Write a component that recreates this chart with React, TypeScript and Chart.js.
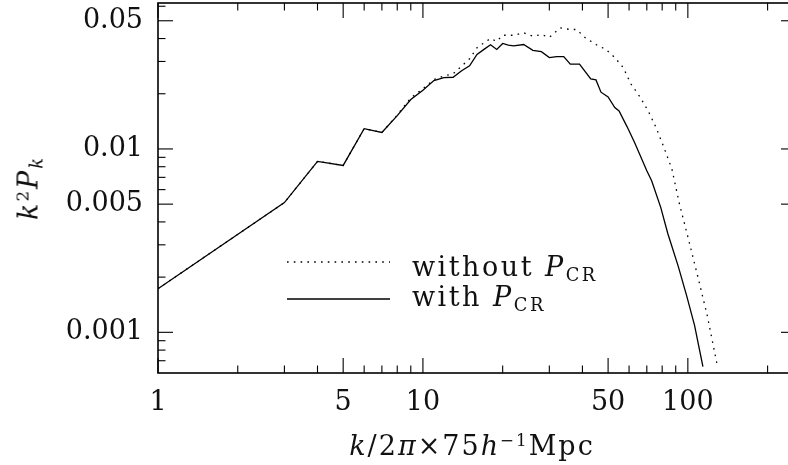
import React, { useEffect, useRef } from "react";
import { Chart, registerables } from "chart.js";

Chart.register(...registerables);

// ---- data ----
const kWith = [1, 3, 4, 5, 6, 7, 8, 9, 10, 11, 12, 13, 14, 15, 16, 17, 18, 19, 20, 21, 22, 24, 26, 28, 30, 32, 34, 36, 39, 43, 45, 47, 50, 53, 55, 59, 63, 70, 73, 79, 84, 92, 99, 106, 114];
const pWith = [0.00173, 0.0051, 0.00855, 0.00813, 0.0129, 0.0123, 0.0152, 0.0186, 0.0209, 0.0236, 0.0245, 0.0246, 0.0267, 0.0284, 0.0328, 0.0349, 0.037, 0.0349, 0.0376, 0.0368, 0.0365, 0.0371, 0.0345, 0.0339, 0.0315, 0.0319, 0.0319, 0.029, 0.029, 0.0241, 0.0238, 0.0204, 0.0192, 0.0168, 0.0161, 0.0132, 0.0108, 0.0076, 0.0067, 0.0048, 0.00346, 0.00229, 0.00158, 0.00109, 0.00065];

const kWithout = [1, 3, 4, 5, 6, 7, 8, 9, 10, 11, 12, 13, 14, 15, 16, 17, 18, 19, 20, 22, 24, 26, 28, 30, 33, 36, 38, 41, 45, 49, 53, 57, 61, 66, 71, 76, 81, 87, 93, 100, 108, 118, 129];
const pWithout = [0.00173, 0.0051, 0.00855, 0.00813, 0.0129, 0.0123, 0.0153, 0.019, 0.0213, 0.0239, 0.025, 0.0257, 0.0283, 0.031, 0.0356, 0.0379, 0.04, 0.0386, 0.0417, 0.0417, 0.043, 0.0412, 0.042, 0.0406, 0.0457, 0.0448, 0.0448, 0.0404, 0.0371, 0.0349, 0.0315, 0.0278, 0.0226, 0.0192, 0.016, 0.013, 0.0103, 0.0078, 0.005, 0.00332, 0.00213, 0.00126, 0.000665];

const xTickValues = [1, 5, 10, 50, 100];
const xTickText = ["1", "5", "10", "50", "100"];
const xMajorMarks = [1, 5, 10, 50, 100];
const xMinorMarks = [2, 3, 4, 6, 7, 8, 9, 20, 30, 40, 60, 70, 80, 90, 200];

const yTickValues = [0.001, 0.005, 0.01, 0.05];
const yTickText = ["0.001", "0.005", "0.01", "0.05"];
const yMajorMarks = [0.001, 0.005, 0.01, 0.05];
const yMinorMarks = [0.0007, 0.0008, 0.0009, 0.002, 0.003, 0.004, 0.006, 0.007, 0.008, 0.009, 0.02, 0.03, 0.04, 0.06];

const X_MIN = 1;
const X_MAX = 256;
const Y_MIN = 0.00064;
const Y_MAX = 0.0625;

const FONT = "'DejaVu Serif', serif";
const DOT_DASH = [1.6, 5.2];

const frameTicks = {
  id: "frameTicks",
  afterDatasetsDraw(chart: any) {
    const { ctx, chartArea, scales } = chart;
    const { left, right, top, bottom } = chartArea;
    const xs = scales.x;
    const ys = scales.y;
    ctx.save();
    ctx.strokeStyle = "#000";
    ctx.lineWidth = 1.1;
    const seg = (x1: number, y1: number, x2: number, y2: number) => {
      ctx.beginPath();
      ctx.moveTo(x1, y1);
      ctx.lineTo(x2, y2);
      ctx.stroke();
    };
    const majorLen = 15;
    const minorLen = 7.5;
    xMajorMarks.forEach((v) => {
      const p = xs.getPixelForValue(v);
      seg(p, bottom, p, bottom - majorLen);
      seg(p, top, p, top + majorLen);
    });
    xMinorMarks.forEach((v) => {
      const p = xs.getPixelForValue(v);
      seg(p, bottom, p, bottom - minorLen);
      seg(p, top, p, top + minorLen);
    });
    yMajorMarks.forEach((v) => {
      const p = ys.getPixelForValue(v);
      seg(left, p, left + majorLen, p);
      seg(right, p, right - majorLen, p);
    });
    yMinorMarks.forEach((v) => {
      const p = ys.getPixelForValue(v);
      seg(left, p, left + minorLen, p);
      seg(right, p, right - minorLen, p);
    });
    ctx.lineWidth = 1.6;
    ctx.strokeRect(left, top, right - left, bottom - top);

    // legend samples
    ctx.lineWidth = 1.3;
    ctx.setLineDash(DOT_DASH);
    seg(287, 262, 390, 262);
    ctx.setLineDash([]);
    seg(287, 299, 390, 299);
    ctx.restore();
  },
};

const noPad = (s: any) => {
  s.paddingTop = 0;
  s.paddingBottom = 0;
  s.paddingLeft = 0;
  s.paddingRight = 0;
};

export default function App() {
  const ref = useRef<HTMLCanvasElement | null>(null);

  useEffect(() => {
    if (!ref.current) return;
    const chart = new Chart(ref.current, {
      type: "line",
      data: {
        datasets: [
          {
            label: "without P_CR",
            data: kWithout.map((k, i) => ({ x: k, y: pWithout[i] })),
            borderColor: "#000",
            borderWidth: 1.3,
            borderDash: DOT_DASH,
            pointRadius: 0,
            fill: false,
            tension: 0,
          },
          {
            label: "with P_CR",
            data: kWith.map((k, i) => ({ x: k, y: pWith[i] })),
            borderColor: "#000",
            borderWidth: 1.3,
            pointRadius: 0,
            fill: false,
            tension: 0,
          },
        ],
      },
      options: {
        responsive: false,
        animation: false,
        devicePixelRatio: 1,
        parsing: false,
        layout: { padding: { left: 0, top: 3, right: 14, bottom: 0 } },
        plugins: { legend: { display: false }, tooltip: { enabled: false } },
        scales: {
          x: {
            type: "logarithmic",
            position: "bottom",
            min: X_MIN,
            max: X_MAX,
            afterBuildTicks: (s: any) => {
              s.ticks = xTickValues.map((v) => ({ value: v }));
            },
            afterFit: (s: any) => {
              s.height = 92;
              noPad(s);
            },
            grid: { display: false, drawTicks: false },
            border: { display: false },
            ticks: {
              autoSkip: false,
              maxRotation: 0,
              padding: 14,
              color: "#111",
              font: { family: FONT, size: 27 },
              callback: (_v: any, i: number) => xTickText[i],
            },
          },
          y: {
            type: "logarithmic",
            position: "left",
            min: Y_MIN,
            max: Y_MAX,
            afterBuildTicks: (s: any) => {
              s.ticks = yTickValues.map((v) => ({ value: v }));
            },
            afterFit: (s: any) => {
              s.width = 158;
              noPad(s);
            },
            grid: { display: false, drawTicks: false },
            border: { display: false },
            ticks: {
              autoSkip: false,
              padding: 15,
              color: "#111",
              font: { family: FONT, size: 27 },
              callback: (_v: any, i: number) => yTickText[i],
            },
          },
        },
      },
      plugins: [frameTicks],
    } as any);
    return () => chart.destroy();
  }, []);

  const textBase: React.CSSProperties = {
    position: "absolute",
    fontFamily: FONT,
    fontSize: 27,
    lineHeight: "27px",
    color: "#111",
    whiteSpace: "nowrap",
  };
  const sub: React.CSSProperties = { fontSize: "0.66em", position: "relative", top: "0.3em" };
  const sup: React.CSSProperties = { fontSize: "0.62em", position: "relative", top: "-0.55em" };

  return (
    <div
      style={{
        position: "fixed",
        left: 0,
        top: 0,
        width: 788,
        height: 465,
        overflow: "hidden",
        background: "#fff",
      }}
    >
      <canvas
        ref={ref}
        width={810}
        height={465}
        style={{ position: "absolute", left: 0, top: 0, width: 810, height: 465 }}
      />
      {/* x-axis title */}
      <div style={{ ...textBase, left: 472, top: 432, transform: "translateX(-50%)", letterSpacing: "2px" }}>
        <i>k</i>/2<i>π</i>×75<i>h</i>
        <span style={sup}>−1</span>Mpc
      </div>
      {/* y-axis title */}
      <div
        style={{
          ...textBase,
          left: 30,
          top: 188,
          transform: "translate(-50%, -50%) rotate(-90deg)",
          letterSpacing: "2px",
        }}
      >
        <i>k</i>
        <span style={sup}>2</span>
        <i>P</i>
        <span style={sub}>
          <i>k</i>
        </span>
      </div>
      {/* legend labels */}
      <div style={{ ...textBase, left: 412, top: 253, letterSpacing: "2.5px" }}>
        without <i>P</i>
        <span style={sub}>CR</span>
      </div>
      <div style={{ ...textBase, left: 412, top: 283, letterSpacing: "2.5px" }}>
        with <i>P</i>
        <span style={sub}>CR</span>
      </div>
    </div>
  );
}
